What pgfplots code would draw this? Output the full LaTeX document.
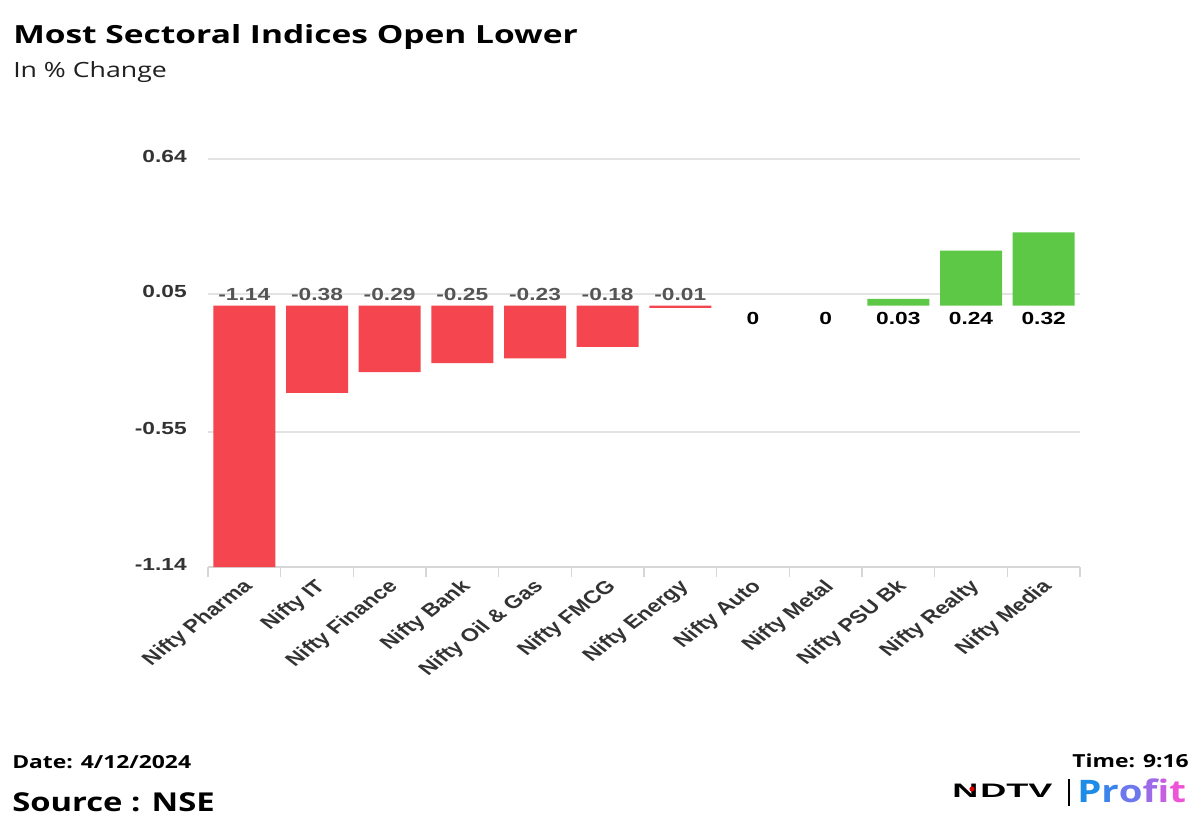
\documentclass[border=0pt]{standalone}
\usepackage{pgfplots}
\pgfplotsset{compat=1.18}
\usepackage{pgfplotstable}
\usepackage{fontspec}
\setmainfont{Liberation Sans}
\newfontfamily\opensans{Open Sans}

\definecolor{negred}{HTML}{F5464F}
\definecolor{posgreen}{HTML}{5DC846}
\definecolor{gridgray}{HTML}{E3E3E3}
\definecolor{axisgray}{HTML}{D6D6D6}
\definecolor{labgray}{HTML}{333333}
\definecolor{valgray}{HTML}{555555}

% % change at the open, by sector
\pgfplotstableread{
idx val
0 -1.14
1 -0.38
2 -0.29
3 -0.25
4 -0.23
5 -0.18
6 -0.01
7 0
8 0
9 0.03
10 0.24
11 0.32
}\sectors

\begin{document}
\begin{tikzpicture}[x=1pt,y=1pt]
\path[use as bounding box] (0,0) rectangle (1200,-831);

\node[anchor=base west, inner sep=0, xscale=1.34, font=\opensans\bfseries\fontsize{25}{30}\selectfont] at (13,-43) {Most Sectoral Indices Open Lower};
\node[anchor=base west, inner sep=0, xscale=1.27, text=black!88, font=\opensans\fontsize{21}{25}\selectfont] at (13,-77) {In \% Change};

\begin{axis}[
  at={(208pt,-567pt)}, anchor=south west,
  scale only axis, width=872pt, height=408pt,
  xmin=-0.5, xmax=11.5, ymin=-1.14, ymax=0.64,
  clip=false,
  axis x line*=bottom, axis y line*=left,
  y axis line style={draw=none},
  x axis line style={-, draw=axisgray, line width=2pt},
  xtick={0,...,11},
  xticklabels={Nifty Pharma,Nifty IT,Nifty Finance,Nifty Bank,Nifty Oil \& Gas,Nifty FMCG,Nifty Energy,Nifty Auto,Nifty Metal,Nifty PSU Bk,Nifty Realty,Nifty Media},
  minor xtick={-0.5,0.5,...,11.5},
  major tick length=0pt, minor tick length=10pt, tick align=outside,
  minor x tick style={draw=axisgray, line width=1.5pt},
  ytick={-1.14,-0.55,0.05,0.64},
  yticklabels={-1.14,-0.55,0.05,0.64},
  ymajorgrids, grid style={draw=gridgray, line width=1.5pt},
  yticklabel style={inner sep=0pt, anchor=east, xshift=-21pt, yshift=3pt, xscale=1.3,
    text=labgray, font=\bfseries\fontsize{17.5}{20}\selectfont},
  xticklabel style={inner sep=0pt, anchor=north east, xshift=-3pt, yshift=-11pt, xscale=1.3, rotate=45,
    text=labgray, font=\bfseries\fontsize{18}{22}\selectfont},
]
\addplot[ybar, bar width=62pt, bar shift=0pt, fill=negred, draw=none,
  restrict y to domain=-2:-0.001] table[x=idx, y=val] {\sectors};
\addplot[ybar, bar width=62pt, bar shift=0pt, fill=posgreen, draw=none,
  restrict y to domain=0.001:2] table[x=idx, y=val] {\sectors};
% value labels sit on the zero line
\addplot[draw=none, mark=none, point meta=explicit,
  restrict expr to domain={\thisrow{val}}{-2:-0.001},
  nodes near coords={\pgfmathprintnumber[fixed, precision=2, assume math mode=true]{\pgfplotspointmeta}},
  nodes near coords style={anchor=south, inner sep=0pt, yshift=5pt, xscale=1.3, text=valgray,
    font=\bfseries\fontsize{17.5}{20}\selectfont}]
  table[x=idx, y expr=0, meta=val] {\sectors};
\addplot[draw=none, mark=none, point meta=explicit,
  restrict expr to domain={\thisrow{val}}{0:2},
  nodes near coords={\pgfmathprintnumber[fixed, precision=2, assume math mode=true]{\pgfplotspointmeta}},
  nodes near coords style={anchor=north, inner sep=0pt, yshift=-6pt, xscale=1.3, text=black,
    font=\bfseries\fontsize{17.5}{20}\selectfont}]
  table[x=idx, y expr=0, meta=val] {\sectors};
\end{axis}

\node[anchor=base west, inner sep=0, xscale=1.27, font=\opensans\bfseries\fontsize{18}{22}\selectfont] at (12,-768) {Date: 4/12/2024};
\node[anchor=base west, inner sep=0, xscale=1.26, font=\opensans\bfseries\fontsize{26}{30}\selectfont] at (12,-811) {Source : NSE};
\node[anchor=base east, inner sep=0, xscale=1.27, font=\opensans\bfseries\fontsize{18}{22}\selectfont] at (1189,-767) {Time: 9:16};

% logo
\node[anchor=base west, inner sep=0, xscale=1.85, font=\bfseries\fontsize{19.5}{22}\selectfont] at (952,-797) {N\kern1pt DTV};
\fill[red!85!black] (972,-789) circle (2.6);
\draw[line width=1.8pt] (1069,-779) -- (1069,-806);
\node[anchor=base west, inner sep=0, xscale=1.24, font=\opensans\bfseries\fontsize{31}{36}\selectfont] at (1077,-802)
  {\textcolor[HTML]{1E8BE6}{P}\textcolor[HTML]{3D84EA}{r}\textcolor[HTML]{6C78EC}{o}\textcolor[HTML]{9C6BE8}{f}\textcolor[HTML]{C85EE0}{i}\textcolor[HTML]{EE54D6}{t}};
\end{tikzpicture}
\end{document}
